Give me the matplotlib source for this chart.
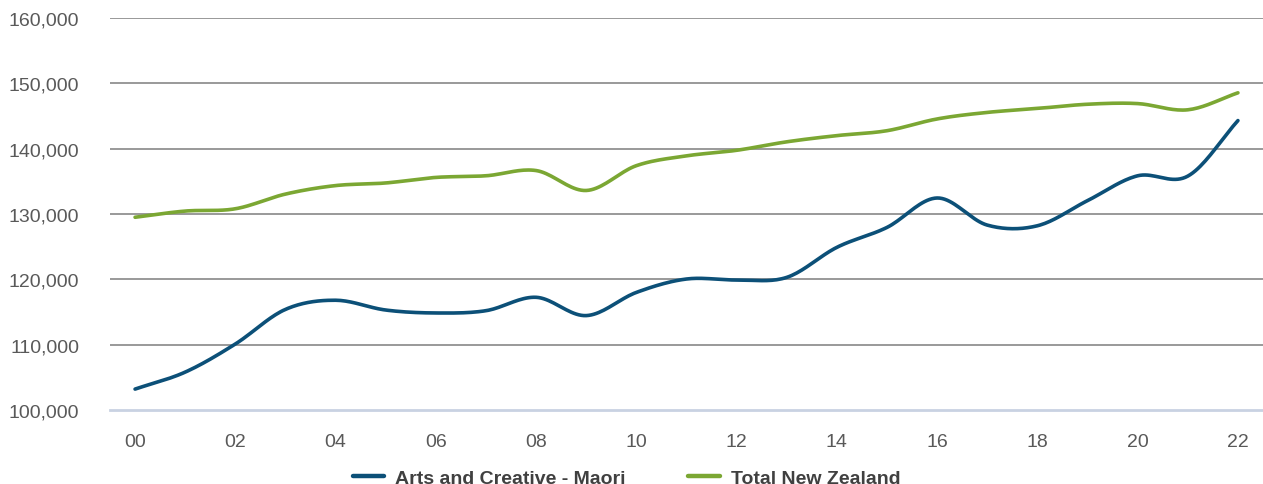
import matplotlib.pyplot as plt
import numpy as np
from matplotlib.ticker import FuncFormatter

plt.rcParams['font.family'] = ['Liberation Sans', 'DejaVu Sans']

# Data (years 2000-2022)
years = list(range(0, 23))
year_labels = ['00', '02', '04', '06', '08', '10', '12', '14', '16', '18', '20', '22']
arts_maori = [103200, 105800, 110100, 115400, 116800, 115300, 114850, 115200, 117250,
              114450, 118000, 120050, 119900, 120300, 124900, 127950, 132450, 128300,
              128200, 132050, 135850, 135800, 144300]
total_nz = [129500, 130450, 130800, 133050, 134350, 134750, 135600, 135850, 136650,
            133600, 137400, 138900, 139750, 141050, 142000, 142750, 144550, 145550,
            146150, 146800, 146900, 145950, 148550]


def smooth(x, y, n=20):
    # Catmull-Rom style smoothing like a spreadsheet "smoothed line"
    x = np.asarray(x, float)
    y = np.asarray(y, float)
    px = np.concatenate([[2 * x[0] - x[1]], x, [2 * x[-1] - x[-2]]])
    py = np.concatenate([[2 * y[0] - y[1]], y, [2 * y[-1] - y[-2]]])
    xs, ys = [], []
    t = np.linspace(0, 1, n, endpoint=False)
    for i in range(1, len(px) - 2):
        for arr, out in ((px, xs), (py, ys)):
            p0, p1, p2, p3 = arr[i - 1], arr[i], arr[i + 1], arr[i + 2]
            out.extend(0.5 * ((2 * p1) + (-p0 + p2) * t
                              + (2 * p0 - 5 * p1 + 4 * p2 - p3) * t ** 2
                              + (-p0 + 3 * p1 - 3 * p2 + p3) * t ** 3))
    xs.append(x[-1])
    ys.append(y[-1])
    return np.array(xs), np.array(ys)


fig = plt.figure(figsize=(12.63, 4.85), dpi=100)
ax = fig.add_axes([110 / 1263, 1 - 411 / 485, 1 - 110 / 1263, (411 - 19) / 485])

sx, sy = smooth(years, arts_maori)
ax.plot(sx, sy, color='#0c5078', lw=2.6, solid_capstyle='round', label='Arts and Creative - Maori', zorder=3)
sx, sy = smooth(years, total_nz)
ax.plot(sx, sy, color='#7ba733', lw=2.6, solid_capstyle='round', label='Total New Zealand', zorder=3)

ax.set_xlim(-0.5, 22.5)
ax.set_ylim(100000, 160000)
ax.set_yticks(range(100000, 160001, 10000))
ax.yaxis.set_major_formatter(FuncFormatter(lambda v, p: f'{int(v):,}'))
ax.set_xticks(range(0, 23, 2))
ax.set_xticklabels(year_labels)

for v in range(110000, 160001, 10000):
    ax.axhline(v, color='#878787', lw=1.2, zorder=1)
ax.axhline(100000, color='#c9d2e2', lw=2.0, zorder=1, clip_on=False)

for s in ax.spines.values():
    s.set_visible(False)
ax.tick_params(axis='both', length=0, labelsize=14, labelcolor='#595959')
ax.tick_params(axis='y', pad=22)
ax.tick_params(axis='x', pad=16.5)

leg = fig.legend(loc='center', bbox_to_anchor=(0.496, 0.013), ncol=2, frameon=False,
                 prop={'weight': 'bold', 'size': 14}, handlelength=1.6, columnspacing=3.25,
                 handletextpad=0.57)
for t in leg.get_texts():
    t.set_color('#404040')
for h in leg.get_lines():
    h.set_linewidth(3.2)

plt.savefig('out.png', dpi=100)
